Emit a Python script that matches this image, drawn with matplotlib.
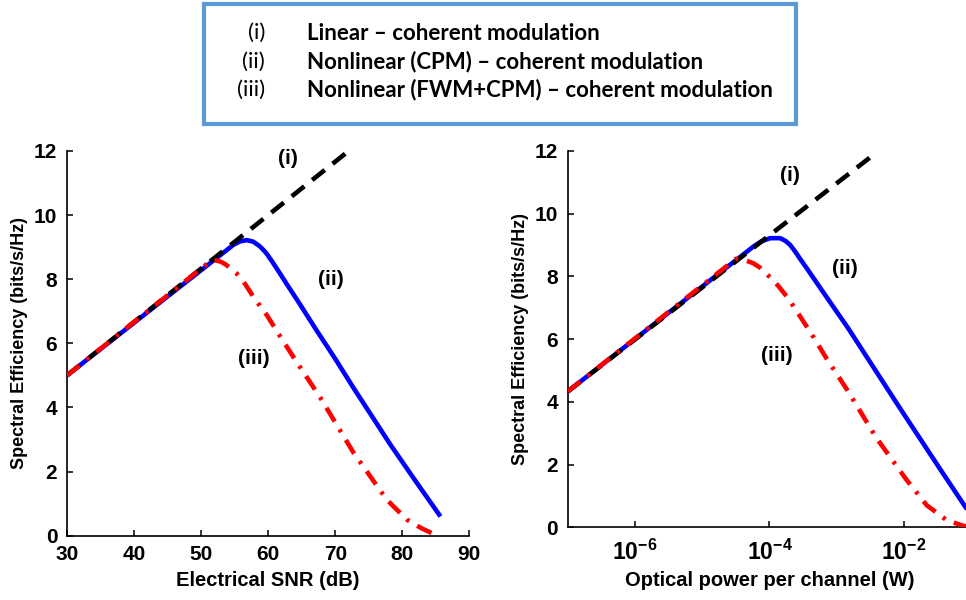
import numpy as np
import matplotlib
matplotlib.use("Agg")
import matplotlib.pyplot as plt
from matplotlib.patches import Rectangle
from matplotlib.ticker import NullLocator

# ---------------- data ----------------
# left panel: electrical SNR (dB)
snr_lin = [30, 72]
se_lin = [5.0, 12.0]
snr_cpm = [30, 54.8, 55.8, 56.8, 57.8, 58.8, 59.7, 60.6, 61.7, 62.8, 64.8, 67.3, 70.0, 72.7, 75.5, 78.2, 82.0, 85.7]
se_cpm = [5.0, 9.07, 9.18, 9.22, 9.17, 9.02, 8.82, 8.55, 8.2, 7.84, 7.2, 6.38, 5.52, 4.62, 3.72, 2.85, 1.7, 0.6]
snr_fwm = [30, 51.6, 52.3, 52.9, 53.6, 54.4, 55.2, 56.1, 57.8, 59.8, 62.3, 64.0, 67.8, 72.7, 77.7, 80.7, 82.7, 85.2]
se_fwm = [5.0, 8.6, 8.58, 8.55, 8.47, 8.34, 8.2, 8.0, 7.45, 6.88, 6.05, 5.5, 4.3, 2.6, 1.12, 0.5, 0.25, 0.0]

# right panel: optical power per channel, exponents of 10 (W)
pexp_lin = [-7, -2.41]
se2_lin = [4.33, 11.95]
pexp_cpm = [-7, -4.24, -4.12, -3.99, -3.84, -3.76, -3.69, -3.62, -3.55, -3.40, -3.25, -3.05, -2.83, -2.06, -1.46, -1.09, -1.0]
se2_cpm = [4.33, 8.95, 9.12, 9.22, 9.22, 9.13, 9.0, 8.8, 8.58, 8.12, 7.65, 7.03, 6.35, 3.8, 1.85, 0.66, 0.4]
pexp_fwm = [-7, -4.5, -4.44, -4.34, -4.24, -4.14, -4.04, -3.87, -3.72, -3.50, -3.35, -3.15, -2.85, -2.41, -1.96, -1.66, -1.36, -1.12, -1.0]
se2_fwm = [4.33, 8.56, 8.55, 8.5, 8.42, 8.28, 8.08, 7.7, 7.3, 6.58, 6.08, 5.38, 4.4, 2.85, 1.51, 0.7, 0.22, 0.05, 0.0]

legend_ids = ["(i)", "(ii)", "(iii)"]
legend_txt = ["Linear \u2013 coherent modulation",
              "Nonlinear (CPM) \u2013 coherent modulation",
              "Nonlinear (FWM+CPM) \u2013 coherent modulation"]

# ---------------- figure ----------------
plt.rcParams['font.family'] = ['Liberation Sans', 'DejaVu Sans']
plt.rcParams['font.weight'] = 'bold'
plt.rcParams['mathtext.fontset'] = 'custom'
plt.rcParams['mathtext.rm'] = 'Liberation Sans:bold'
plt.rcParams['mathtext.bf'] = 'Liberation Sans:bold'
plt.rcParams['axes.unicode_minus'] = False

W, H = 966, 600
fig = plt.figure(figsize=(W / 100, H / 100), dpi=100)


def style_axes(ax):
    for s in ['top', 'right']:
        ax.spines[s].set_visible(False)
    for s in ['left', 'bottom']:
        ax.spines[s].set_linewidth(1.2)
    ax.tick_params(direction='in', length=4, width=1.1, labelsize=15, pad=7)
    ax.set_ylim(0, 12)
    ax.set_yticks(range(0, 13, 2))
    ax.set_ylabel('Spectral Efficiency (bits/s/Hz)', fontsize=13, fontweight='bold', labelpad=4)


def draw(ax, x1, y1, x2, y2, x3, y3):
    ax.plot(x2, y2, color='#0000ff', lw=3.3, solid_capstyle='butt', zorder=2)
    ax.plot(x1, y1, color='black', lw=3.3, ls=(0, (3.5, 2.2)), zorder=3)
    ax.plot(x3, y3, color='#ff0000', lw=3.3, ls=(0, (3.5, 2.0, 0.7, 2.0)), zorder=4)


# left panel
ax1 = fig.add_axes([67 / W, 1 - 535.7 / H, 402.3 / W, 384.7 / H])
draw(ax1, snr_lin, se_lin, snr_cpm, se_cpm, snr_fwm, se_fwm)
ax1.set_xlim(30, 90)
ax1.set_xticks(range(30, 91, 10))
ax1.set_xlabel('Electrical SNR (dB)', fontsize=14.5, fontweight='bold', labelpad=5)
style_axes(ax1)
ax1.text(62.9, 11.77, '(i)', fontsize=15, fontweight='bold', ha='center', va='center')
ax1.text(69.3, 7.98, '(ii)', fontsize=15, fontweight='bold', ha='center', va='center')
ax1.text(57.9, 5.53, '(iii)', fontsize=15, fontweight='bold', ha='center', va='center')

# right panel
ax2 = fig.add_axes([567.7 / W, 1 - 527.3 / H, 403.5 / W, 376.3 / H])
draw(ax2, 10.0 ** np.array(pexp_lin), se2_lin,
     10.0 ** np.array(pexp_cpm), se2_cpm,
     10.0 ** np.array(pexp_fwm), se2_fwm)
ax2.set_xscale('log')
ax2.set_xlim(1e-7, 1e-1)
ax2.set_xticks([1e-6, 1e-4, 1e-2])
ax2.set_xticklabels([r'$\mathbf{10^{-6}}$', r'$\mathbf{10^{-4}}$', r'$\mathbf{10^{-2}}$'])
ax2.xaxis.set_minor_locator(NullLocator())
ax2.set_xlabel('Optical power per channel (W)', fontsize=14.5, fontweight='bold', labelpad=4)
style_axes(ax2)
ax2.tick_params(axis='x', labelsize=16.5, pad=9)
ax2.text(10 ** -3.70, 11.23, '(i)', fontsize=15, fontweight='bold', ha='center', va='center')
ax2.text(10 ** -2.88, 8.26, '(ii)', fontsize=15, fontweight='bold', ha='center', va='center')
ax2.text(10 ** -3.89, 5.49, '(iii)', fontsize=15, fontweight='bold', ha='center', va='center')

# legend box
fig.patches.append(Rectangle((204 / W, 1 - 124 / H), 592 / W, 120 / H,
                             transform=fig.transFigure, fill=False,
                             edgecolor='#5b9bd5', linewidth=3))
rows_y = [33, 62, 90]
for tid, txt, yy in zip(legend_ids, legend_txt, rows_y):
    fig.text(265 / W, 1 - yy / H, tid, fontsize=16, fontweight='normal', ha='right', va='center',
             family=['Lato', 'DejaVu Sans'])
    fig.text(307 / W, 1 - yy / H, txt, fontsize=16, fontweight='bold', ha='left', va='center',
             family=['Lato', 'DejaVu Sans'])

fig.savefig('out.png', dpi=100)
